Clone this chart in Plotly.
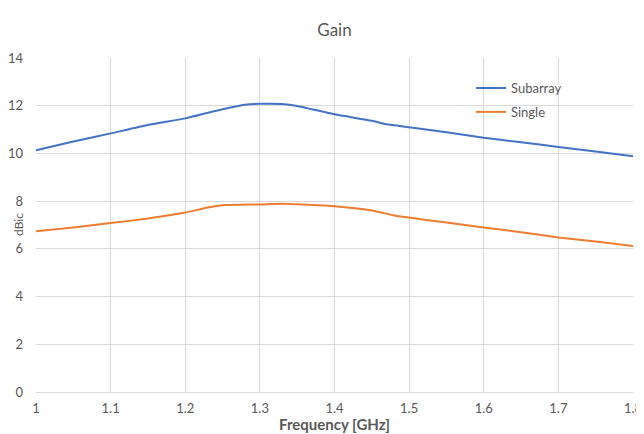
import plotly.graph_objects as go

freq_sub = [1.0, 1.05, 1.1, 1.15, 1.2, 1.25, 1.28, 1.3, 1.33, 1.35, 1.4, 1.45, 1.47, 1.5, 1.55, 1.6, 1.65, 1.7, 1.75, 1.8]
gain_sub = [10.13, 10.5, 10.84, 11.19, 11.47, 11.85, 12.04, 12.08, 12.07, 11.99, 11.64, 11.37, 11.22, 11.1, 10.89, 10.66, 10.47, 10.27, 10.08, 9.88]

freq_single = [1.0, 1.05, 1.1, 1.15, 1.2, 1.23, 1.25, 1.3, 1.33, 1.4, 1.45, 1.48, 1.5, 1.55, 1.6, 1.65, 1.7, 1.75, 1.8]
gain_single = [6.74, 6.9, 7.08, 7.27, 7.52, 7.73, 7.83, 7.86, 7.89, 7.79, 7.61, 7.4, 7.31, 7.1, 6.9, 6.7, 6.48, 6.31, 6.12]

x_ticks = [1.0, 1.1, 1.2, 1.3, 1.4, 1.5, 1.6, 1.7, 1.8]
x_labels = ["1", "1.1", "1.2", "1.3", "1.4", "1.5", "1.6", "1.7", "1.8"]

FONT = "Lato, 'Open Sans', sans-serif"
GRAY = "#595959"

# page body has an 8px margin, so the figure is sized to fill the remaining window
W, H = 636, 426
L, R, T, B = 28, 11, 50, 42
PW, PH = W - L - R, H - T - B

fig = go.Figure()
fig.add_trace(go.Scatter(x=freq_sub, y=gain_sub, mode="lines", name="Subarray",
                         line=dict(color="#4472C4", width=2, shape="spline", smoothing=0.5),
                         legendgroup="a"))
fig.add_trace(go.Scatter(x=freq_single, y=gain_single, mode="lines", name="Single",
                         line=dict(color="#ED7D31", width=2, shape="spline", smoothing=0.5),
                         legendgroup="b"))

fig.update_layout(
    width=W, height=H,
    margin=dict(l=L, r=R, t=T, b=B, autoexpand=False),
    paper_bgcolor="white", plot_bgcolor="white",
    font=dict(family=FONT, color=GRAY, size=13),
    title=dict(text="Gain", x=(L + PW / 2) / W, xanchor="center", y=1 - 22 / H, yanchor="middle",
               font=dict(size=17, color=GRAY, family=FONT)),
    showlegend=True,
    legend=dict(x=0.7286, y=0.955, xanchor="left", yanchor="top", bgcolor="rgba(0,0,0,0)",
                font=dict(size=13, color=GRAY, family=FONT), tracegroupgap=4, itemwidth=30),
    xaxis=dict(range=[1.0, 1.8], tickvals=x_ticks, ticktext=x_labels, showgrid=True, automargin=False,
               gridcolor="#D9D9D9", gridwidth=1, zeroline=False, showline=True, linecolor="#D9D9D9",
               ticks="", ticklabelstandoff=4, tickfont=dict(size=13, color=GRAY)),
    yaxis=dict(range=[0, 14], dtick=2, showgrid=True, gridcolor="#D9D9D9", gridwidth=1, automargin=False,
               zeroline=False, showline=False, ticks="", ticklabelstandoff=12,
               tickfont=dict(size=13, color=GRAY)),
    annotations=[
        dict(text="dBic", textangle=-90, xref="paper", yref="paper",
             x=-18 / PW, y=0.5, xanchor="center", yanchor="middle", showarrow=False,
             font=dict(size=12, color=GRAY, family=FONT)),
        dict(text="<b>Frequency [GHz]</b>", xref="paper", yref="paper",
             x=0.5, y=-32 / PH, xanchor="center", yanchor="middle", showarrow=False,
             font=dict(size=15, color=GRAY, family=FONT)),
    ],
    shapes=[dict(type="line", xref="paper", yref="paper", x0=-29 / PW, x1=-29 / PW,
                 y0=-B / PH, y1=1 + 48 / PH, line=dict(color="#E6E6E6", width=1))],
)

fig.write_html("out.html")
